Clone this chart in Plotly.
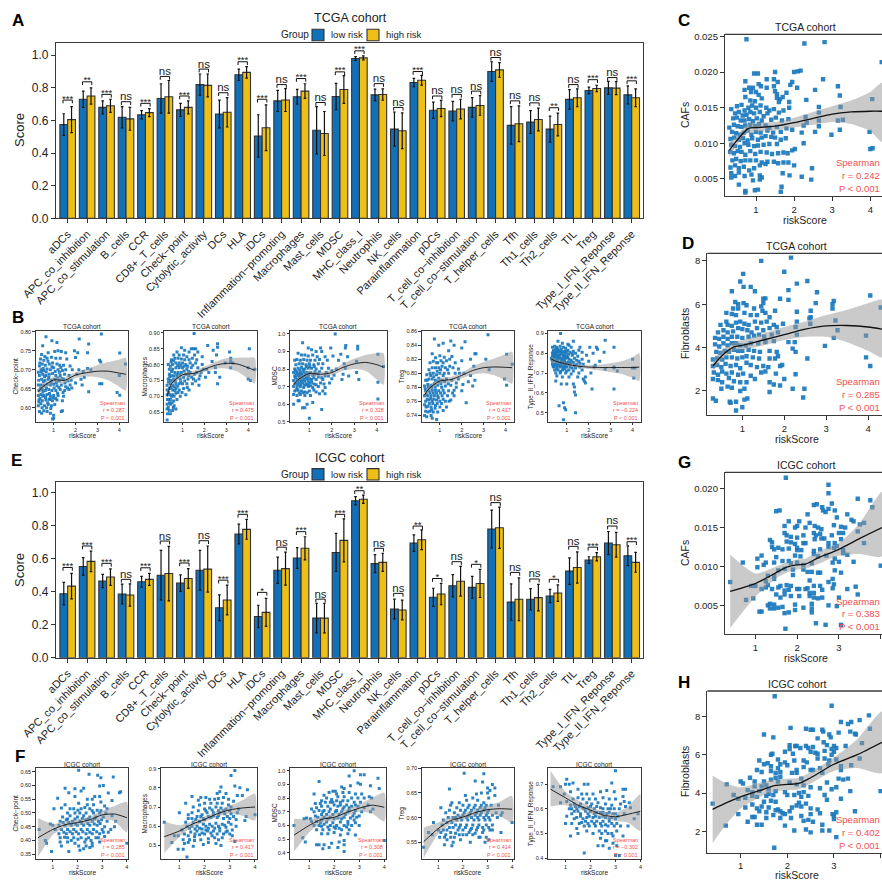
import plotly.graph_objects as go

W, H = 882, 881
FONT = "Liberation Sans"
BLUE, YELLOW, EDGE, DOT, RED = "#1170B8", "#EDBF17", "#333333", "#1A78BD", "#F2504F"

categories = ["aDCs", "APC_co_inhibition", "APC_co_stimulation", "B_cells", "CCR", "CD8+_T_cells", "Check\u2212point",
              "Cytolytic_activity", "DCs", "HLA", "iDCs", "Inflammation\u2212promoting", "Macrophages", "Mast_cells",
              "MDSC", "MHC_class_I", "Neutrophils", "NK_cells", "Parainflammation", "pDCs", "T_cell_co\u2212inhibition",
              "T_cell_co\u2212stimulation", "T_helper_cells", "Tfh", "Th1_cells", "Th2_cells", "TIL", "Treg",
              "Type_I_IFN_Reponse", "Type_II_IFN_Reponse"]

tcga_low = [.575, .73, .68, .62, .635, .735, .665, .82, .64, .88, .505, .72, .745, .54, .747, .98, .757, .547, .833, .663, .657, .68, .90, .57, .59, .547, .729, .784, .80, .757]
tcga_high = [.605, .75, .69, .61, .648, .745, .68, .815, .65, .895, .555, .725, .78, .52, .79, .984, .759, .537, .847, .673, .67, .692, .91, .58, .606, .575, .739, .796, .798, .739]
tcga_low_err = [.066, .05, .04, .065, .025, .09, .04, .065, .085, .035, .13, .065, .045, .145, .08, .012, .035, .105, .025, .05, .06, .06, .06, .115, .07, .08, .06, .02, .04, .055]
tcga_high_err = [.08, .05, .04, .07, .025, .10, .04, .07, .09, .035, .14, .07, .045, .135, .085, .012, .035, .11, .03, .05, .06, .06, .045, .11, .07, .07, .055, .02, .04, .055]
tcga_sig = ["***", "**", "***", "ns", "***", "ns", "***", "ns", "ns", "***", "***", "ns", "***", "ns", "***", "***", "ns", "ns", "***", "ns", "ns", "ns", "ns", "ns", "ns", "**", "ns", "***", "ns", "***"]
tcga_bracket = [.725, .837, .76, .715, .705, .87, .75, .915, .77, .96, .73, .82, .857, .71, .898, 1.027, .826, .68, .90, .75, .76, .78, .986, .72, .708, .678, .82, .85, .863, .843]

icgc_low = [.388, .553, .465, .386, .46, .50, .452, .53, .303, .75, .25, .53, .604, .24, .638, .951, .57, .295, .695, .366, .436, .426, .78, .337, .354, .374, .525, .592, .695, .618]
icgc_high = [.434, .584, .489, .38, .475, .51, .48, .537, .35, .778, .275, .54, .663, .24, .711, .96, .578, .289, .715, .386, .463, .45, .788, .354, .364, .392, .547, .612, .685, .578]
icgc_low_err = [.068, .053, .04, .06, .033, .15, .05, .12, .078, .06, .068, .08, .063, .09, .115, .025, .055, .06, .05, .055, .067, .067, .115, .11, .065, .04, .08, .02, .07, .06]
icgc_high_err = [.077, .062, .05, .067, .036, .165, .06, .14, .09, .06, .085, .10, .07, .09, .13, .025, .055, .06, .06, .065, .09, .085, .125, .13, .08, .05, .095, .025, .075, .06]
icgc_sig = ["***", "***", "***", "ns", "***", "ns", "***", "ns", "***", "***", "*", "ns", "***", "ns", "***", "**", "ns", "ns", "**", "*", "ns", "*", "ns", "ns", "ns", "*", "ns", "***", "ns", "***"]
icgc_bracket = [.547, .677, .572, .475, .545, .707, .574, .709, .47, .869, .396, .67, .764, .355, .869, 1.012, .663, .39, .798, .48, .582, .566, .94, .517, .477, .475, .675, .67, .798, .703]

score_ticks = [0, .2, .4, .6, .8, 1.0]

c_pts_milli = [(.75,24.6),(2.27,24),(2.8,24.2),(4.3,21.4),(.95,19.8),(1.05,19.8),(1.5,20),(2,20),(2.1,20.1),(2.17,20.2),(1.28,19),(1.47,19),(1.95,18.6),(1.9,18.2),(2.76,19),(.72,18.7),(1.07,18.3),(1.57,18.6),(1.13,18),(1.28,17.8),(1.47,18),(1.5,17.3),(2.08,17.8),(.82,17.8),(.92,17.8),(.7,17.5),(.87,17.2),(1,17.2),(1.07,16.8),(1.55,16.9),(1.8,17.1),(2.55,17.5),(3.15,18),(3.2,16.7),(4.05,16.2),(2.32,16.1),(3.22,15.1),(2.65,15.1),(.72,16.5),(.85,16),(.97,15.9),(1.15,16.3),(1.55,16.4),(1.63,16.2),(1.7,16.5),(1.87,15.8),(1.87,15),(1.6,15.8),(.35,14.8),(.5,15.2),(.62,15.4),(.7,14.6),(.8,15),(.9,15.3),(1,15),(1.12,15.3),(1.27,15),(1.35,14.6),(1.47,14.8),(.45,14.2),(.55,14.4),(.65,13.9),(.75,14),(.85,14.4),(.95,14.2),(1.1,14.4),(1.2,13.8),(1.3,14.2),(1.6,14.3),(1.72,14.6),(2.65,14.3),(.4,13.5),(.5,13.6),(.6,13.2),(.7,13.2),(.82,13.4),(.92,13.1),(1.02,13.5),(1.15,13.2),(1.4,13.3),(1.52,13.6),(1.68,13.2),(1.85,13.4),(2.3,13.7),(2.65,13.2),(3.15,13.2),(3.28,13.3),(.3,12.2),(.42,12.6),(.52,12.4),(.62,12.3),(.72,12.5),(.85,12.6),(.98,12.4),(1.08,12.7),(1.25,12.5),(1.35,12.2),(1.55,12.3),(1.8,12.1),(1.95,11.9),(2.25,12.5),(2.33,12.9),(2.65,12.4),(.37,11.6),(.48,11.4),(.58,11.2),(.68,11.5),(.78,11.8),(.88,11.2),(1,11.6),(1.12,11.5),(1.3,11.8),(1.45,11.5),(1.65,11.6),(2.2,11.5),(2.55,11.6),(3.2,11.9),(3.98,11.6),(.33,10.6),(.43,10.8),(.55,10.5),(.66,10.7),(.78,10.4),(.9,10.7),(1.05,10.5),(1.15,10.8),(1.25,11),(1.4,10.9),(1.5,10.8),(1.65,10.5),(1.78,10.7),(2.25,10),(2.98,11.2),(.35,9.8),(.45,9.6),(.58,9.5),(.7,10),(.8,9.8),(.95,9.6),(1.05,9.7),(1.2,9.8),(1.35,9.9),(1.55,9.9),(1.95,9),(2.02,9.2),(.32,8.8),(.42,8.6),(.52,8.9),(.62,8.8),(.72,8.4),(.85,8.9),(.98,8.5),(1.12,8.8),(1.28,8.7),(1.42,8.5),(1.58,8.6),(1.72,8.7),(1.83,8.6),(.38,7.6),(.48,7.8),(.6,7.5),(.72,7.6),(.85,7.6),(1,7.6),(1.15,7.3),(1.3,7.4),(1.47,7.4),(1.58,7.2),(1.72,7.3),(1.85,7.3),(.33,6.6),(.45,6.9),(.55,6.5),(.68,6.7),(.82,6.2),(.95,6.5),(1.1,6.9),(1.25,7.1),(2,6.9),(2.47,6.5),(.35,5.8),(.45,5.4),(.55,5.9),(.7,5.4),(.88,5.6),(1.1,5.5),(1.15,5.2),(1.7,5.8),(1.88,5.5),(2.2,5.3),(2.45,4.9),(.35,5.2),(.55,4.2),(.72,3.3),(.72,3.1),(.92,4.8),(.97,3.4),(1.05,3.5),(1.1,4.9),(1.67,3.9),(1.65,3.2),(4,9.2),(4.06,9.3)]
d_pts = [(1.45,8),(2.16,8.15),(2,7.5),(1.02,7.4),(.95,7.05),(1.03,6.8),(1.2,6.8),(1.3,6.6),(.75,6.6),(2.3,6.95),(2.55,7.07),(2.1,6.65),(2.78,6.55),(4.05,6.4),(1.5,6.25),(1.55,6.27),(1.9,6.25),(2.1,6.2),(3.18,6.15),(3.15,6),(3.15,5.8),(2.75,6.05),(4.3,5.85),(.83,6.1),(.9,6),(1.03,6.05),(1.1,5.95),(.62,5.6),(.78,5.8),(.9,5.8),(1.28,5.8),(1.45,5.9),(1.5,6.05),(1.48,5.7),(1.55,5.6),(1.78,5.7),(2.3,5.65),(2.63,5.7),(.75,5.55),(.85,5.5),(1.05,5.6),(1.2,5.5),(1.35,5.5),(1.65,5.4),(2.63,5.4),(2.6,5.35),(3.22,5.25),(.48,5.05),(.62,5.2),(.65,5.05),(.75,5),(.85,5.15),(.95,5.2),(1.05,5.1),(1.15,5.05),(1.3,5.2),(1.45,5.15),(1.58,5.2),(1.75,5.05),(1.97,5.1),(2.3,5.2),(2.62,5.1),(.42,4.7),(.55,4.8),(.65,4.7),(.78,4.75),(.9,4.9),(1,4.85),(1.12,4.8),(1.22,4.7),(1.35,4.9),(1.5,4.8),(1.65,4.9),(1.82,4.95),(2.27,4.95),(3.27,4.8),(.35,4.45),(.45,4.4),(.55,4.5),(.65,4.4),(.75,4.5),(.88,4.5),(1,4.45),(1.15,4.5),(1.28,4.55),(1.4,4.6),(1.52,4.5),(1.7,4.6),(1.85,4.7),(2.3,4.6),(3.95,4.55),(3.18,4.45),(.35,4.15),(.45,4.05),(.55,4.2),(.65,4.1),(.75,4.2),(.85,4.2),(.95,4.1),(1.08,4.1),(1.2,4.2),(1.38,4.2),(1.55,4.25),(1.75,4.3),(2.1,4.25),(2.25,4.25),(.38,3.8),(.48,3.75),(.58,3.85),(.68,3.8),(.8,3.9),(.9,3.85),(1,3.85),(1.15,3.9),(1.28,3.85),(1.42,3.8),(1.65,3.85),(1.82,3.8),(2.2,3.95),(2.27,3.8),(2.97,4.08),(.3,3.45),(.4,3.5),(.52,3.45),(.62,3.55),(.75,3.55),(.88,3.5),(1,3.55),(1.1,3.6),(1.25,3.55),(1.4,3.5),(1.65,3.5),(1.78,3.5),(1.85,3.6),(2.55,3.5),(3.95,3.55),(.3,3.15),(.4,3.2),(.5,3.1),(.6,3.25),(.72,3.15),(.85,3.2),(.95,3.05),(1.1,3.3),(1.2,3.2),(1.35,3.1),(1.5,3.15),(1.62,3.1),(1.9,3.15),(1.95,3.2),(4.05,3.15),(.32,2.85),(.42,2.75),(.52,2.9),(.62,2.8),(.75,2.85),(.9,2.75),(1.02,2.8),(1.2,2.7),(1.45,2.85),(1.55,2.9),(1.8,2.8),(2.27,2.77),(.3,2.55),(.42,2.5),(.52,2.4),(.68,2.6),(.8,2.45),(.95,2.4),(1.1,2.4),(1.3,2.55),(1.65,2.4),(2,2.55),(.5,2.1),(.65,2.2),(.75,2.15),(.95,2),(1.05,2.1),(1.75,2.3),(1.9,2.25),(2.2,2.1),(2.48,2.1),(1.65,1.95),(.3,1.65),(.37,1.55),(.7,1.5),(.72,1.45),(.85,1.5),(1.05,1.6),(1.12,1.65),(1,1.25),(.85,1.1),(2.45,1.7)]
g_pts_milli = [(1.73,21.4),(2.75,20.5),(2.75,19.4),(3.45,18.7),(3.75,18.5),(3.8,17.6),(2.4,17.9),(2.47,18),(2.6,17.6),(2.83,18.1),(2.68,17),(2.75,17.4),(2.62,17.2),(2.9,17.2),(2.95,16.3),(3.2,16.7),(3.3,16),(3.35,15.8),(2.25,16.7),(1.5,17.1),(1.58,17.2),(1.8,15.8),(2.05,15.8),(2.2,15),(2.3,15.6),(2.42,15.2),(2.5,15),(2.58,14.8),(2.88,15.3),(3.05,15.1),(3.15,15),(3.5,15.4),(3.6,15.6),(1.7,15.2),(1.95,15),(2,15.2),(3.45,14.5),(1.7,14.3),(1.75,14),(1.85,13.8),(2,13.7),(2.15,14),(2.4,14.3),(2.45,14),(2.55,14.2),(2.65,13.6),(2.83,14),(3,14.3),(3.1,14.3),(1.35,13.4),(1.4,13.1),(1.75,13.2),(1.85,13.1),(1.95,12.9),(2,12.4),(2.15,13),(2.2,13),(2.42,13.5),(2.58,13.6),(2.75,13),(2.9,13),(3.05,13.5),(3.6,13),(1.4,12.5),(1.45,12.2),(1.55,12.4),(1.65,12.2),(1.8,12.3),(2,12.1),(2.1,12.1),(2.4,12),(2.55,12.2),(2.75,12.5),(2.88,12.4),(2.95,12.6),(3.1,12.1),(1.15,11.4),(1.5,11.2),(1.65,10.7),(1.8,10.7),(1.95,11.4),(2.08,11.3),(2.4,11.6),(2.5,11.3),(2.7,11.4),(2.9,11),(3.1,11.7),(3.2,11.5),(.7,10.5),(1.05,11),(1.25,10.5),(1.45,10.5),(1.05,9.9),(1.2,10.2),(1.85,10.4),(2,10.5),(2.15,10.2),(2.35,10.4),(2.85,10.5),(3,10.6),(3.35,10.6),(4,10.1),(1.55,9.5),(1.7,9.7),(1.9,9.6),(2.15,9.6),(2.25,9.3),(2.35,9.3),(2.55,9.2),(2.9,9.5),(3.05,9.2),(1.3,8.8),(1.45,8.8),(1.9,8.9),(2.3,8.2),(2.5,9.2),(2.85,8.4),(.4,8),(.9,7.5),(1,7.5),(1.25,8.1),(1.3,7.6),(1.45,8.4),(1.6,7.5),(1.75,7.6),(1.85,7.5),(2.05,7.1),(2.25,7.2),(2.4,7.5),(2.55,7.5),(2.75,8),(2.88,7.7),(2.85,7.2),(3.4,7.4),(1.15,7.1),(1.25,7.3),(1.4,7.1),(1.55,7.3),(1.7,6.9),(1.8,7),(2,7.1),(2.2,7.1),(2.3,6.6),(2.4,6.6),(2.6,7),(3.2,7.1),(3.45,6.4),(1.5,6.4),(1.6,6),(1.7,6.4),(1.85,6.2),(2.05,6.2),(2.3,6.2),(2.4,6),(2.5,5.9),(2.6,6),(3,6),(.78,5.7),(.95,5.9),(1.3,5),(1.35,5.2),(1.45,5.1),(1.55,4.7),(1.65,4.8),(1.95,5.1),(2.15,4.7),(2.35,5.2),(2.35,4.6),(2.75,5),(2.95,4.9),(1.1,4.2),(1.15,4.2),(1.35,4.6),(1.45,4.6),(1.7,4),(1.8,4.1),(1.95,4.4),(2.35,4.1),(1.72,2),(2.45,2.7),(2.68,2.5),(3.05,2.5)]
h_pts = [(1.73,9.05),(2.95,8.55),(3.55,7.8),(3.75,8.05),(3.15,7.7),(3.3,7.6),(3.37,7.7),(2.07,7.4),(1.5,7.05),(1.7,6.9),(2.4,7.35),(2.5,7.3),(2.55,7.3),(2.77,7.2),(2.75,7.3),(2.65,6.85),(2.9,7.05),(2.93,6.9),(3.1,7.15),(3.35,7.2),(3.45,7.1),(3.47,7.05),(3.77,7.35),(2.05,6.5),(2.17,6.45),(2.2,6.45),(2.4,6.45),(2.45,6.35),(2.55,6.4),(2.78,6.65),(2.85,6.5),(3,6.45),(3.05,6.35),(2.95,6.3),(3.25,6.45),(3.6,6.6),(1.68,6.05),(1.65,6),(1.95,6.15),(2.05,6.3),(2.12,6.05),(2.28,6.35),(2.5,6.15),(2.6,6.1),(2.65,6.05),(2.8,6.2),(2.95,6),(3,6.15),(1.4,5.7),(1.5,5.5),(1.58,5.55),(1.8,5.75),(1.95,5.6),(2.15,5.7),(2.35,5.7),(2.42,5.6),(2.65,5.8),(2.8,5.8),(2.9,5.7),(3.05,5.75),(3.55,5.8),(1.65,5.4),(1.8,5.3),(1.85,5.5),(2,5.45),(2.2,5.2),(2.35,5.35),(2.55,5.2),(2.7,5.3),(2.88,5.5),(3.15,5.4),(3.37,5.45),(1.35,5.2),(1.45,5.1),(1.65,5.15),(1.75,5.05),(1.85,5.1),(2.1,5.05),(2.2,5.05),(2.5,5.2),(2.75,5.05),(3.15,5.2),(1.2,4.8),(1.75,4.8),(1.85,4.85),(1,4.6),(1.05,4.5),(1.3,4.6),(1.5,4.6),(1.65,4.7),(1.8,4.6),(2.05,4.55),(2.3,4.75),(2.85,4.55),(3.1,4.75),(3.2,4.7),(3.3,4.75),(.7,4.45),(1.3,4.35),(1.45,4.35),(1.55,4.4),(1.6,4.2),(2.2,4.45),(2.35,4.4),(2.5,4.3),(2.7,4.25),(2.95,4.2),(3.05,4.3),(1.15,4.15),(1.25,4.05),(1.4,4.1),(1.6,3.95),(1.75,4.1),(1.95,4.05),(2.25,4),(2.35,4.05),(3.35,4.1),(4,4.1),(.85,3.9),(1.1,3.75),(1.25,3.85),(1.35,3.8),(1.55,3.85),(1.7,3.9),(2,3.9),(2.15,3.9),(2.3,3.8),(2.45,3.85),(2.8,3.9),(3.15,3.7),(.4,3.45),(.95,3.7),(1.5,3.55),(1.65,3.6),(1.75,3.55),(2.25,3.5),(2.4,3.45),(2.85,3.65),(1.1,3.25),(1.25,3.4),(1.35,3.2),(1.45,3.3),(1.6,3.25),(1.8,3.15),(2.1,3.25),(2.2,3.35),(2.3,3.3),(2.5,3.2),(2.65,3.15),(1.4,3.05),(1.55,3),(1.75,3.1),(1.85,3.05),(1.9,2.95),(1.95,2.9),(2.05,3.05),(2.3,2.8),(2.5,2.9),(2.7,2.95),(2.97,2.9),(3.05,3),(3.45,3.05),(.95,2.9),(1.25,2.75),(1.3,2.75),(1.55,2.7),(1.7,2.85),(1.85,2.7),(2.08,2.7),(2.35,2.55),(2.45,2.6),(2.55,2.5),(3,2.8),(3,2.65),(1.15,2.5),(1.35,2.35),(1.45,2.35),(1.95,2.3),(2.75,2.35),(.68,2.3),(2.15,2.05),(2.4,2.1),(2.5,1.95),(2.75,2.05),(2.9,2.05),(3.05,1.7),(1.72,1.15)]

b1_pts = [(.65,.787),(.92,.776),(.5,.763),(1.15,.772),(2.17,.781),(2.6,.768),(3.18,.794),(4.02,.744),(4.28,.715),(1.55,.745),(1.95,.75),(.45,.74),(.6,.735),(.75,.745),(1.05,.748),(1.2,.75),(1.35,.748),(2.1,.745),(2.55,.745),(.4,.728),(.55,.725),(.7,.73),(.9,.733),(1.1,.73),(1.3,.73),(1.6,.728),(2.0,.732),(3.1,.725),(3.15,.72),(.35,.71),(.48,.715),(.62,.712),(.8,.715),(.95,.718),(1.15,.715),(1.28,.712),(1.45,.712),(1.75,.71),(.3,.693),(.42,.7),(.55,.698),(.7,.702),(.85,.7),(1,.705),(1.2,.7),(1.4,.698),(1.55,.7),(1.85,.7),(2.35,.695),(2.55,.703),(2.7,.7),(.35,.685),(.5,.688),(.65,.685),(.8,.688),(.95,.69),(1.1,.685),(1.3,.685),(1.5,.688),(1.7,.685),(2.05,.688),(2.4,.68),(4,.685),(.32,.672),(.45,.675),(.6,.672),(.75,.675),(.9,.672),(1.05,.675),(1.25,.67),(1.45,.675),(1.65,.67),(1.8,.672),(.3,.66),(.42,.66),(.55,.658),(.7,.662),(.85,.66),(1,.662),(1.15,.658),(1.35,.66),(1.55,.655),(1.75,.66),(2,.665),(2.3,.66),(3.1,.663),(3.2,.663),(.33,.645),(.48,.648),(.62,.645),(.78,.648),(.92,.645),(1.1,.645),(1.3,.648),(1.5,.645),(1.7,.648),(2.6,.642),(3.9,.64),(4.02,.633),(.3,.632),(.42,.635),(.56,.632),(.7,.635),(.85,.63),(1,.632),(1.2,.632),(1.45,.63),(.33,.62),(.48,.618),(.65,.62),(.8,.622),(.95,.618),(1.15,.62),(1.4,.618),(.3,.605),(.42,.61),(.58,.605),(.75,.608),(.9,.605),(1.05,.608),(1.4,.592),(1.35,.59),(.35,.59),(.45,.585),(.55,.592),(.7,.59),(.85,.585),(1,.58),(1,.572),(.95,.57)]
b1_more = [(.37,.718),(.52,.703),(.66,.694),(.78,.68),(.88,.666),(1.02,.652),(1.18,.638),(.41,.652),(.53,.668),(.67,.652),(.81,.637),(.97,.626),(.38,.624),(.51,.641),(.63,.627),(.73,.613),(.87,.598),(1.12,.666),(1.27,.693),(1.38,.677),(1.52,.665),(1.63,.652),(1.43,.64),(1.24,.653),(.92,.708),(1.07,.695),(.74,.722),(.58,.682),(.44,.694),(.33,.615),(.47,.6),(.68,.6),(1.19,.678),(1.33,.706),(1.83,.652),(2.15,.7),(2.25,.675),(.84,.622),(1.09,.624),(.5,.63)]
b2_pts = [(1.53,.898),(.95,.853),(1.4,.85),(1.5,.85),(1.6,.85),(.75,.84),(1.1,.845),(2.15,.86),(2.6,.866),(2.6,.855),(3.15,.84),(4.05,.85),(2.4,.845),(2.55,.83),(1.3,.84),(1.7,.84),(.6,.83),(.85,.83),(1.05,.83),(1.2,.825),(1.55,.83),(1.9,.825),(.5,.815),(.65,.82),(.8,.82),(.95,.818),(1.1,.815),(1.3,.815),(1.45,.82),(1.65,.815),(3.2,.82),(3.2,.81),(.35,.8),(.45,.795),(.55,.8),(.7,.805),(.85,.805),(1,.805),(1.15,.8),(1.35,.805),(1.6,.805),(1.9,.8),(2.35,.81),(2.95,.805),(3.3,.805),(.4,.785),(.55,.785),(.7,.79),(.85,.79),(1,.79),(1.2,.785),(1.4,.79),(1.7,.79),(2.1,.785),(2.5,.79),(3.2,.79),(4.3,.785),(.4,.77),(.5,.765),(.65,.775),(.8,.775),(.95,.775),(1.15,.77),(1.35,.775),(1.55,.77),(1.85,.775),(2.2,.775),(2.5,.775),(4,.79),(.35,.755),(.45,.75),(.6,.755),(.75,.76),(.9,.755),(1.05,.76),(1.25,.755),(1.5,.755),(1.75,.755),(2.05,.76),(2.7,.76),(4,.755),(4.1,.75),(.3,.735),(.45,.74),(.55,.735),(.7,.74),(.85,.74),(1,.74),(1.2,.74),(1.45,.74),(1.75,.735),(2.6,.74),(.3,.72),(.4,.725),(.55,.72),(.7,.725),(.85,.72),(1.05,.725),(1.3,.72),(.3,.705),(.42,.705),(.55,.705),(.7,.71),(.9,.7),(1.15,.705),(.32,.69),(.45,.69),(.6,.685),(.75,.69),(.3,.675),(.45,.675),(.62,.67),(.3,.66),(.4,.655),(.55,.655),(.32,.645),(.45,.645),(.3,.625),(.7,.66)]
b2_more = [(.37,.712),(.48,.728),(.63,.73),(.78,.732),(.92,.745),(1.1,.748),(1.28,.765),(1.42,.76),(.5,.778),(.6,.765),(.74,.768),(.88,.768),(1.07,.78),(1.23,.795),(1.47,.798),(.42,.762),(.57,.748),(.67,.748),(.35,.69),(.5,.7),(.62,.7),(.8,.712),(.98,.712),(1.22,.728),(1.6,.748),(1.65,.775),(1.8,.765),(1.95,.785),(.36,.745),(.48,.808),(.6,.812),(.78,.797),(.92,.797),(1.08,.795),(1.28,.778),(.52,.68),(.66,.718),(.4,.68),(.35,.665),(.58,.665)]
b3_pts = [(2.15,1),(.7,.95),(.95,.92),(1.1,.91),(1.5,.92),(2.62,.935),(2.6,.92),(3.15,.93),(3.15,.915),(4.05,.885),(1.3,.9),(1.55,.9),(1.95,.92),(2.4,.885),(.5,.89),(.65,.88),(.8,.88),(.95,.875),(1.15,.88),(1.35,.87),(1.7,.87),(2.05,.875),(2.7,.87),(.35,.85),(.45,.855),(.6,.85),(.75,.855),(.9,.85),(1.05,.85),(1.25,.85),(1.45,.855),(1.8,.85),(2.3,.85),(.4,.825),(.55,.83),(.7,.83),(.85,.825),(1,.83),(1.2,.825),(1.4,.83),(1.6,.83),(2.55,.83),(3.1,.845),(.35,.8),(.5,.805),(.65,.81),(.8,.8),(.95,.805),(1.1,.805),(1.3,.8),(1.55,.805),(1.85,.805),(2.2,.8),(2.6,.805),(4.3,.815),(.3,.78),(.45,.785),(.6,.78),(.75,.785),(.9,.78),(1.05,.78),(1.25,.785),(1.45,.785),(1.75,.78),(2,.79),(3.1,.78),(.35,.76),(.5,.76),(.65,.765),(.8,.76),(.95,.76),(1.15,.765),(1.4,.755),(1.7,.76),(2.5,.77),(2.75,.76),(.3,.735),(.45,.74),(.6,.74),(.75,.74),(.9,.745),(1.1,.74),(1.3,.74),(1.6,.74),(2,.745),(2.45,.74),(3.2,.74),(.4,.72),(.55,.72),(.7,.72),(.85,.715),(1,.72),(1.2,.715),(1.5,.72),(1.9,.72),(4.05,.725),(.3,.7),(.45,.695),(.6,.7),(.75,.695),(.95,.7),(1.15,.695),(1.4,.7),(1.7,.695),(.35,.675),(.5,.68),(.65,.675),(.8,.67),(1,.675),(1.3,.67),(1.6,.675),(.3,.655),(.45,.65),(.6,.655),(.8,.65),(1.05,.65),(1.45,.66),(1.7,.66),(4.05,.63),(.3,.6),(.5,.62),(.55,.62),(.7,.58),(.8,.58),(.9,.6),(1.0,.52),(1.55,.57),(1.15,.61)]
b3_more = [(.38,.79),(.52,.772),(.68,.772),(.83,.772),(.98,.77),(1.22,.77),(.42,.77),(.57,.755),(.72,.75),(.87,.75),(1.02,.745),(1.2,.75),(.38,.752),(.5,.73),(.65,.73),(.8,.73),(.95,.73),(1.1,.725),(.36,.715),(.48,.71),(.62,.71),(.78,.708),(.92,.71),(1.05,.705),(1.3,.71),(.42,.68),(.55,.665),(.72,.665),(.9,.665),(1.2,.68),(.58,.795),(.72,.798),(.87,.815),(1.02,.815),(1.22,.815),(1.38,.775),(1.55,.75),(1.65,.715),(1.85,.76),(2.1,.765)]
b4_pts = [(.75,.849),(1.15,.843),(.95,.84),(1.5,.846),(2.15,.845),(3.2,.855),(1.4,.832),(1.55,.824),(1.65,.84),(2,.836),(2.6,.828),(2.65,.828),(4.05,.827),(4.3,.813),(1,.825),(1.2,.823),(.65,.828),(.8,.822),(.55,.815),(.7,.817),(.85,.815),(1.05,.818),(1.3,.818),(1.45,.82),(1.7,.815),(2,.818),(2.4,.82),(3.1,.82),(.5,.805),(.65,.808),(.8,.808),(.95,.808),(1.1,.81),(1.25,.808),(1.45,.81),(1.6,.808),(1.85,.806),(2.55,.81),(3.25,.805),(.4,.798),(.55,.8),(.7,.8),(.85,.798),(1,.8),(1.2,.8),(1.4,.8),(1.7,.8),(2.1,.8),(2.4,.797),(.35,.79),(.5,.792),(.65,.792),(.8,.79),(.95,.793),(1.1,.79),(1.3,.792),(1.55,.79),(1.85,.792),(2.3,.788),(2.6,.79),(.3,.782),(.45,.784),(.6,.783),(.75,.785),(.9,.783),(1.05,.785),(1.25,.782),(1.5,.783),(1.75,.786),(2.05,.784),(2.5,.782),(3.95,.792),(.35,.775),(.5,.775),(.65,.776),(.8,.776),(.95,.775),(1.15,.776),(1.4,.775),(1.65,.776),(2,.775),(4.05,.783),(.3,.768),(.45,.768),(.6,.768),(.75,.768),(.9,.768),(1.1,.768),(1.35,.768),(1.65,.768),(.35,.76),(.5,.762),(.65,.76),(.85,.762),(1,.76),(1.25,.76),(1.5,.762),(2.2,.758),(.3,.755),(.45,.753),(.6,.752),(.8,.754),(1,.752),(1.3,.752),(.35,.746),(.55,.746),(.7,.745),(.9,.745),(1.15,.747),(.3,.74),(.4,.738),(.6,.74),(.65,.736),(.85,.734)]
b4_more = [(.42,.79),(.58,.797),(.72,.795),(.88,.803),(1.03,.805),(1.15,.797),(.33,.778),(.47,.78),(.62,.78),(.78,.78),(.93,.788),(1.08,.78),(1.22,.788),(1.38,.785),(.38,.77),(.55,.772),(.7,.772),(.85,.772),(1.03,.772),(1.2,.772),(.42,.763),(.58,.764),(.72,.763),(.93,.765),(1.15,.763),(.37,.752),(.52,.757),(.68,.757),(.88,.757),(1.08,.757),(.45,.745),(.62,.748),(.78,.75),(1.42,.76),(1.58,.772),(1.75,.78),(1.9,.8),(1.35,.805),(1.15,.815),(.9,.815)]
b5_pts = [(.72,.9),(.85,.83),(1.1,.84),(1.3,.86),(.6,.86),(.8,.85),(1.05,.845),(2.75,.865),(3.15,.83),(2.35,.83),(2.05,.83),(2.7,.805),(3.15,.73),(2.4,.82),(.35,.83),(.45,.835),(.55,.83),(.7,.835),(.95,.825),(1.2,.83),(1.6,.83),(.4,.815),(.5,.82),(.6,.82),(.75,.82),(.9,.81),(1.05,.815),(1.3,.81),(1.55,.815),(.35,.8),(.45,.8),(.55,.805),(.65,.805),(.8,.8),(.95,.8),(1.15,.805),(1.4,.8),(1.7,.805),(2.2,.8),(.35,.785),(.45,.79),(.55,.785),(.7,.79),(.85,.785),(1,.785),(1.25,.79),(1.5,.785),(1.9,.79),(.3,.775),(.4,.775),(.55,.77),(.65,.775),(.8,.77),(.95,.775),(1.1,.77),(1.35,.775),(1.7,.77),(2.5,.76),(.35,.76),(.5,.76),(.6,.76),(.75,.76),(.9,.76),(1.05,.755),(1.3,.755),(1.55,.76),(2,.76),(4,.77),(.35,.745),(.45,.745),(.6,.745),(.75,.745),(.9,.74),(1.1,.745),(1.35,.74),(1.75,.745),(2.3,.74),(.4,.73),(.55,.73),(.7,.73),(.85,.725),(1,.73),(1.25,.725),(1.6,.73),(2.25,.73),(2.75,.72),(3.15,.725),(4.1,.725),(4.0,.725),(.45,.715),(.6,.715),(.8,.715),(1,.71),(1.3,.71),(1.7,.715),(3.3,.71),(.5,.7),(.7,.7),(.95,.7),(1.2,.695),(1.55,.7),(2.1,.7),(4.05,.675),(.55,.685),(.8,.68),(1.1,.68),(1.5,.68),(1.85,.68),(.5,.66),(.75,.645),(1,.645),(1.3,.645),(1.75,.67),(1.8,.66),(1.85,.65),(2.15,.62),(1.35,.63),(1.35,.605),(1.4,.59),(3.15,.62),(.65,.535),(.85,.55),(.9,.525),(.95,.515),(.85,.465),(1.4,.5)]
b5_more = [(.38,.808),(.5,.81),(.62,.812),(.72,.81),(.85,.808),(1,.81),(.4,.795),(.52,.795),(.62,.79),(.75,.797),(.9,.79),(1.08,.795),(1.25,.798),(.33,.768),(.47,.782),(.6,.78),(.72,.775),(.88,.775),(1.05,.778),(1.2,.765),(.42,.768),(.53,.75),(.68,.752),(.82,.752),(.97,.75),(1.18,.752),(1.45,.765),(.38,.735),(.5,.738),(.65,.738),(.8,.735),(.95,.735),(1.15,.73),(1.45,.745),(.55,.722),(.72,.708),(.9,.72),(1.1,.715),(1.4,.725),(1.6,.75)]
f1_pts = [(2.05,.655),(2.47,.64),(2.82,.637),(2.95,.628),(3.45,.63),(1.5,.59),(1.9,.588),(2.25,.59),(1.65,.573),(2.15,.58),(2.9,.598),(3.05,.6),(3.25,.572),(3.7,.573),(3.75,.577),(1.2,.553),(1.9,.56),(2.4,.55),(2.7,.56),(2.9,.56),(2.6,.55),(3.4,.545),(1.5,.53),(2.05,.535),(2.4,.53),(2.65,.53),(2.95,.54),(3.1,.525),(1.05,.515),(1.35,.518),(1.7,.515),(1.85,.515),(2.15,.515),(2.5,.515),(2.8,.51),(3.2,.515),(1.6,.5),(1.9,.5),(2.1,.5),(2.35,.5),(2.65,.5),(2.9,.5),(3.15,.5),(3.4,.49),(1.4,.485),(1.7,.49),(2,.485),(2.25,.49),(2.5,.485),(2.75,.485),(3.05,.485),(1.3,.47),(1.55,.475),(1.8,.47),(2.1,.47),(2.35,.475),(2.6,.47),(2.85,.47),(3.2,.47),(3.55,.47),(.9,.46),(1,.455),(1.25,.455),(1.5,.455),(1.75,.455),(2,.455),(2.25,.455),(2.5,.455),(2.8,.455),(3.1,.45),(3.5,.45),(.45,.44),(1.1,.44),(1.35,.44),(1.6,.44),(1.85,.44),(2.15,.44),(2.4,.44),(2.65,.44),(3,.44),(3.35,.44),(1.25,.425),(1.55,.425),(1.8,.425),(2.05,.425),(2.35,.425),(2.6,.425),(2.9,.425),(3.25,.43),(1.3,.41),(1.6,.41),(1.85,.41),(2.15,.41),(2.45,.41),(2.75,.41),(3.1,.415),(.75,.39),(.7,.4),(1.3,.395),(1.6,.395),(1.9,.39),(2.3,.395),(2.6,.39),(2.9,.395),(1.35,.38),(2.05,.38),(2.35,.38),(2.6,.38),(.95,.36),(1.65,.36),(2.1,.365),(2.25,.37),(2.5,.375),(4,.39)]
f1_more = [(1.42,.465),(1.65,.465),(1.92,.46),(2.18,.462),(2.42,.462),(2.68,.46),(2.92,.462),(1.45,.43),(1.7,.432),(1.95,.432),(2.22,.432),(2.5,.43),(2.78,.432),(3.05,.43),(1.48,.412),(1.75,.4),(2.02,.405),(2.35,.405),(2.55,.4),(2.85,.41),(1.6,.478),(1.9,.478),(2.2,.48),(2.45,.478),(2.7,.478),(2.98,.475),(2.02,.51),(2.3,.52),(2.6,.508),(2.95,.508)]
f2_pts = [(3.2,.89),(3.05,.865),(3.2,.81),(3.4,.8),(2.65,.805),(1.5,.755),(1.85,.75),(2.05,.75),(2.6,.78),(2.5,.77),(2.85,.77),(3.7,.79),(3.5,.76),(1.25,.72),(1.75,.735),(2.2,.74),(2.4,.74),(2.55,.745),(2.75,.75),(2.95,.74),(3.3,.76),(1,.67),(1.35,.66),(1.55,.7),(1.8,.71),(2,.72),(2.25,.72),(2.5,.72),(2.7,.72),(2.95,.71),(3.15,.73),(1.35,.64),(1.5,.67),(1.75,.68),(2,.69),(2.2,.695),(2.45,.7),(2.65,.695),(2.85,.69),(3.05,.7),(3.35,.69),(3.65,.65),(1.25,.62),(1.5,.64),(1.7,.65),(1.9,.66),(2.1,.67),(2.35,.67),(2.6,.67),(2.8,.665),(3.05,.665),(3.3,.67),(4,.66),(.4,.62),(1.3,.6),(1.55,.62),(1.8,.625),(2,.635),(2.25,.645),(2.5,.645),(2.75,.64),(3,.64),(3.25,.635),(3.6,.63),(.95,.55),(1.1,.58),(1.4,.59),(1.7,.6),(1.95,.61),(2.2,.61),(2.45,.615),(2.7,.61),(2.95,.62),(3.25,.6),(1.2,.56),(1.45,.57),(1.7,.575),(1.9,.585),(2.15,.59),(2.4,.59),(2.6,.59),(2.85,.595),(3.1,.58),(.8,.55),(1.35,.55),(1.6,.545),(1.8,.555),(2,.56),(2.25,.565),(2.5,.56),(2.75,.56),(3,.56),(.7,.515),(1.15,.53),(1.4,.53),(1.6,.525),(1.85,.53),(2.15,.535),(2.4,.54),(2.7,.54),(3.1,.55),(1.2,.51),(1.35,.515),(1.55,.495),(1.95,.505),(2.15,.515),(2.45,.51),(2.65,.5),(3.2,.52),(.95,.48),(1.15,.48),(1.3,.44),(2.85,.57)]
f2_more = [(1.5,.6),(1.62,.585),(1.8,.59),(2.05,.6),(2.3,.6),(2.55,.6),(2.8,.605),(3.05,.61),(1.62,.56),(1.9,.565),(2.12,.575),(2.35,.575),(2.6,.575),(2.9,.575),(1.65,.635),(1.95,.64),(2.15,.65),(2.35,.655),(2.55,.655),(2.9,.65),(3.15,.65),(2.05,.68),(2.3,.685),(2.55,.68),(2.75,.68),(3,.68),(1.85,.65),(2.05,.58),(2.3,.55),(2.55,.53)]
f3_pts = [(2.8,1),(3.05,.97),(3.2,.97),(2.6,.96),(3.75,.945),(2.95,.91),(3.05,.9),(2.65,.89),(2.3,.88),(1.4,.92),(1.2,.83),(1.95,.85),(2.05,.85),(2.4,.87),(3.45,.89),(3.8,.87),(1.6,.82),(1.8,.84),(2.1,.83),(2.35,.84),(2.6,.84),(2.85,.83),(3.1,.83),(3.4,.81),(3.5,.8),(1.5,.78),(1.7,.8),(1.9,.79),(2.15,.81),(2.4,.81),(2.7,.8),(2.95,.8),(3.2,.8),(1.25,.76),(1.45,.76),(1.65,.77),(1.85,.77),(2.1,.78),(2.35,.78),(2.55,.78),(2.8,.77),(3.05,.77),(3.35,.75),(1.1,.72),(1.3,.73),(1.5,.74),(1.75,.74),(2,.75),(2.25,.75),(2.5,.75),(2.7,.74),(2.95,.74),(3.2,.73),(3.55,.72),(1.2,.7),(1.4,.71),(1.6,.71),(1.85,.72),(2.1,.71),(2.35,.72),(2.6,.71),(2.85,.71),(3.1,.7),(3.45,.7),(.8,.65),(.9,.655),(1.05,.65),(1.25,.67),(1.5,.68),(1.7,.68),(1.95,.68),(2.2,.68),(2.45,.68),(2.75,.67),(3,.67),(.4,.6),(1.1,.63),(1.3,.63),(1.5,.64),(1.75,.65),(2,.65),(2.3,.65),(2.55,.63),(2.8,.64),(1.2,.6),(1.4,.6),(1.6,.61),(1.85,.6),(2.1,.6),(2.4,.6),(2.7,.6),(3,.6),(1.3,.57),(1.55,.57),(1.8,.57),(2.05,.58),(2.3,.57),(2.6,.57),(.75,.51),(.85,.48),(1.5,.54),(1.75,.54),(2,.55),(2.25,.53),(2.55,.54),(2.85,.53),(1.3,.46),(1.4,.46),(1.6,.46),(1.55,.43),(1.9,.47),(2.2,.48),(2.4,.49),(2.4,.46),(1.8,.44),(2.15,.44),(2.4,.41),(4,.49)]
f3_more = [(1.35,.66),(1.6,.66),(1.85,.66),(2.15,.655),(2.4,.66),(2.65,.655),(2.9,.66),(1.45,.62),(1.7,.625),(1.95,.62),(2.25,.625),(2.55,.61),(2.85,.62),(1.5,.595),(1.75,.59),(2,.59),(2.2,.58),(2.5,.59),(1.55,.7),(1.8,.7),(2.05,.7),(2.3,.7),(2.55,.7),(2.8,.69),(2.15,.74),(2.4,.735),(2.6,.73),(2.85,.75),(1.95,.77),(2.25,.77)]
f4_pts = [(2.05,.69),(2.85,.689),(2.5,.674),(2.8,.672),(1.45,.658),(3,.66),(3.2,.667),(2.1,.645),(2.55,.648),(2.75,.65),(3,.65),(3.1,.655),(3.3,.66),(1.1,.62),(1.55,.63),(1.85,.63),(2.15,.635),(2.4,.64),(2.6,.635),(2.85,.63),(3.05,.64),(3.3,.645),(1.3,.61),(1.5,.625),(1.75,.62),(2,.625),(2.25,.625),(2.5,.625),(2.75,.625),(2.95,.625),(3.15,.625),(3.45,.625),(1.45,.615),(1.65,.61),(1.9,.615),(2.1,.615),(2.35,.615),(2.6,.615),(2.85,.615),(3.05,.615),(3.35,.61),(3.6,.61),(1.2,.595),(1.4,.6),(1.6,.6),(1.8,.605),(2,.605),(2.25,.605),(2.5,.605),(2.7,.605),(2.95,.605),(3.2,.605),(3.55,.605),(.8,.59),(1.15,.585),(1.35,.59),(1.55,.59),(1.75,.595),(1.95,.595),(2.2,.595),(2.45,.595),(2.65,.595),(2.9,.595),(3.1,.595),(3.4,.6),(.6,.57),(1,.575),(1.2,.575),(1.45,.58),(1.7,.585),(1.9,.585),(2.15,.585),(2.4,.585),(2.65,.585),(2.95,.585),(3.2,.585),(4,.59),(1.1,.57),(1.3,.565),(1.5,.57),(1.8,.575),(2,.575),(2.3,.575),(2.55,.575),(2.85,.575),(3.1,.575),(3.55,.57),(.75,.565),(1.05,.56),(1.25,.56),(1.5,.56),(1.65,.56),(1.85,.565),(2.15,.565),(2.4,.565),(2.7,.56),(2.95,.56),(1.35,.555),(1.6,.55),(1.9,.555),(2.3,.55),(2.9,.55),(3.05,.555),(1.25,.545),(.4,.54),(1.55,.543),(2.65,.56)]
f4_more = [(1.35,.575),(1.6,.58),(1.85,.58),(2.1,.58),(2.35,.578),(2.6,.58),(2.8,.58),(3.05,.58),(1.7,.6),(1.9,.6),(2.15,.6),(2.35,.6),(2.6,.6),(2.85,.6),(3.05,.6),(2.05,.61),(2.3,.61),(2.55,.61),(2.75,.61),(3,.61),(2.2,.62),(2.45,.62),(2.7,.62),(2.9,.62),(1.7,.568),(2,.565),(2.25,.57),(2.5,.568),(2.8,.57),(3.2,.575)]
f5_pts = [(3,.755),(1.05,.72),(1.3,.705),(.5,.69),(.8,.69),(1,.7),(1.15,.7),(2.85,.705),(1.75,.7),(1.9,.7),(3.3,.68),(.95,.66),(1.2,.67),(1.5,.68),(1.65,.66),(1.85,.66),(2.1,.66),(2.4,.67),(2.65,.675),(2.95,.67),(3.3,.65),(.8,.625),(1.05,.63),(1.3,.64),(1.5,.645),(1.7,.64),(1.95,.64),(2.2,.64),(2.5,.645),(2.75,.64),(3,.64),(3.35,.63),(3.55,.625),(1.2,.615),(1.35,.62),(1.6,.62),(1.85,.625),(2.05,.62),(2.3,.625),(2.6,.62),(2.85,.615),(3.2,.62),(3.4,.61),(1.25,.6),(1.45,.6),(1.7,.605),(1.9,.605),(2.15,.6),(2.4,.605),(2.7,.6),(2.95,.6),(3.15,.6),(3.6,.605),(1.05,.57),(1.25,.58),(1.5,.59),(1.8,.59),(2,.59),(2.25,.585),(2.5,.585),(2.75,.585),(3,.58),(3.35,.58),(1.35,.56),(1.6,.57),(1.85,.565),(2.1,.565),(2.35,.565),(2.6,.565),(2.85,.565),(3.1,.57),(1,.54),(1.25,.54),(1.55,.54),(1.8,.55),(2.05,.55),(2.25,.55),(2.5,.55),(2.75,.55),(3.05,.54),(1.2,.49),(1.45,.52),(1.75,.53),(1.95,.53),(2.2,.53),(2.45,.53),(2.7,.53),(2.95,.53),(3.2,.53),(3.5,.53),(1.5,.5),(1.85,.51),(2.1,.5),(2.35,.51),(2.6,.51),(2.85,.5),(3.05,.51),(3.3,.49),(2.9,.49),(2.4,.48),(2.6,.47),(2.3,.45),(2.5,.45),(2.65,.47),(2.9,.46),(3.05,.45),(2.75,.44),(1.75,.42),(3,.41),(3.15,.41),(3.75,.56),(3.9,.58),(3.4,.68)]
f5_more = [(1.4,.61),(1.55,.61),(1.75,.6),(2,.61),(2.25,.61),(2.5,.6),(2.8,.6),(1.15,.6),(1.35,.59),(1.6,.58),(1.9,.58),(2.15,.58),(2.4,.585),(2.65,.58),(2.9,.58),(1.45,.565),(1.7,.56),(1.95,.57),(2.2,.57),(2.5,.57),(2.75,.56),(3,.56),(1.65,.545),(1.9,.54),(2.15,.54),(2.4,.54),(2.6,.535),(2.85,.54),(2.45,.5),(2.7,.5)]

# smooth fits: x, fit, lower, upper
c_fit_x = [.3, .5, .8, 1, 1.5, 2, 2.5, 3, 3.5, 4, 4.31]
c_fit_y = [9.0, 10.4, 12.1, 12.2, 12.4, 12.9, 13.5, 14.1, 14.4, 14.5, 14.5]
c_fit_lo = [8.0, 9.8, 11.5, 11.6, 11.8, 12.2, 12.6, 13, 12.7, 11.7, 10.2]
c_fit_hi = [10, 11, 12.8, 12.9, 13, 13.6, 14.4, 15.2, 16, 17.2, 18.5]
d_fit_x = [.3, .5, .8, 1, 1.5, 2, 2.5, 3, 3.5, 4, 4.33]
d_fit_y = [3.15, 3.6, 4.03, 4.1, 4.35, 4.6, 4.85, 5, 5.02, 4.95, 4.85]
d_fit_lo = [2.9, 3.4, 3.85, 3.9, 4.1, 4.35, 4.5, 4.5, 4.25, 3.85, 3.55]
d_fit_hi = [3.5, 3.85, 4.25, 4.35, 4.65, 4.95, 5.2, 5.5, 5.75, 6.05, 6.2]
g_fit_x = [.4, 1, 1.5, 1.75, 2, 2.2, 2.5, 3, 3.5, 4.03]
g_fit_y = [6.8, 7.8, 9.2, 9.9, 10.2, 10.3, 11.1, 12.2, 13.6, 15]
g_fit_lo = [2.1, 6.1, 8.5, 9.2, 9.6, 9.7, 10.3, 11.4, 11.6, 11.3]
g_fit_hi = [11.5, 9.1, 10, 10.5, 10.9, 11, 11.9, 13, 15.6, 19.6]
h_fit_x = [.4, .7, 1, 1.5, 1.75, 2, 2.25, 2.5, 3, 3.5, 4.03]
h_fit_y = [3.15, 3.5, 3.8, 4.2, 4.4, 4.45, 4.5, 4.8, 5.5, 6, 6.65]
h_fit_lo = [1.4, 2.4, 3.2, 3.9, 4.1, 4.15, 4.2, 4.5, 5.15, 5.3, 5.05]
h_fit_hi = [4.9, 4.5, 4.3, 4.6, 4.7, 4.75, 4.8, 5.1, 5.85, 6.8, 8.25]

b_fit_x = [.3, .5, 1, 1.5, 2, 2.5, 3, 3.5, 4, 4.3]
b1_fit = [.642, .655, .673, .672, .686, .692, .696, .696, .691, .688]
b1_lo = [.633, .648, .665, .664, .678, .682, .68, .672, .655, .645]
b1_hi = [.652, .663, .681, .68, .693, .703, .712, .72, .727, .731]
b2_fit = [.70, .74, .768, .772, .785, .798, .804, .802, .79, .782]
b2_lo = [.69, .732, .76, .764, .777, .787, .788, .778, .755, .74]
b2_hi = [.71, .748, .776, .78, .793, .809, .82, .822, .822, .822]
b3_fit = [.71, .74, .775, .77, .78, .81, .83, .838, .825, .81]
b3_lo = [.695, .73, .76, .755, .765, .79, .80, .79, .74, .71]
b3_hi = [.725, .75, .79, .785, .795, .83, .86, .88, .89, .89]
b4_fit = [.769, .778, .789, .791, .797, .804, .808, .809, .8085, .808]
b4_lo = [.764, .774, .785, .787, .793, .798, .80, .797, .79, .785]
b4_hi = [.774, .782, .793, .795, .801, .81, .816, .821, .827, .831]
b5_fit = [.77, .76, .745, .735, .73, .728, .728, .728, .728, .73]
b5_lo = [.755, .75, .737, .725, .72, .713, .705, .695, .675, .66]
b5_hi = [.785, .77, .753, .745, .74, .743, .75, .76, .78, .80]

f_fit_x = [.4, 1, 1.5, 2, 2.5, 3, 3.5, 4]
f1_fit = [.41, .44, .457, .465, .475, .493, .496, .483]
f1_lo = [.34, .42, .445, .453, .463, .478, .47, .43]
f1_hi = [.482, .46, .47, .477, .487, .508, .525, .54]
f2_fit = [.545, .575, .61, .635, .665, .685, .695, .70]
f2_lo = [.46, .545, .595, .62, .65, .665, .655, .63]
f2_hi = [.625, .605, .625, .65, .68, .705, .735, .77]
f3_fit = [.53, .60, .645, .66, .695, .726, .748, .733]
f3_lo = [.41, .55, .62, .635, .67, .70, .69, .63]
f3_hi = [.65, .645, .67, .69, .72, .755, .80, .84]
f4_fit = [.551, .578, .594, .601, .61, .616, .618, .617]
f4_lo = [.518, .567, .587, .594, .604, .608, .603, .59]
f4_hi = [.58, .59, .602, .608, .618, .624, .632, .644]
f5_fit = [.68, .645, .615, .595, .575, .568, .578, .59]
f5_lo = [.61, .615, .60, .58, .56, .55, .545, .51]
f5_hi = [.755, .67, .635, .61, .59, .585, .61, .66]

b_titles = ["Check\u2212point", "Macrophages", "MDSC", "Treg", "Type_II_IFN_Reponse"]
b_r = ["0.287", "0.475", "0.328", "0.417", "\u22120.224"]
f_r = ["0.285", "0.417", "0.308", "0.414", "\u22120.302"]


def px_x(x):
    return x / W


def px_y(y):
    return 1 - y / H


fig = go.Figure()
annots = []
shapes = []
layout_axes = {}
ax_count = 0


def note(x, y, text, size, color="#222222", xanchor="center", yanchor="middle", angle=0, bold=False):
    annots.append(dict(x=px_x(x), y=px_y(y), xref="paper", yref="paper", text=f"<b>{text}</b>" if bold else text,
                       showarrow=False, xanchor=xanchor, yanchor=yanchor, textangle=angle,
                       font=dict(family=FONT, size=size, color=color), borderpad=0, align="center"))


def new_axes(box, xr, yr, xt, yt, yfmt, big, xticktext=None, tick_size=None, mirror=True, xangle=None):
    global ax_count
    ax_count += 1
    n = "" if ax_count == 1 else str(ax_count)
    l, t, r, b = box
    lw = 1.3 if big else .9
    tl = 4 if big else 2.5
    tw = 1.1 if big else .7
    common = dict(showgrid=False, zeroline=False, showline=True, linecolor="#3a3a3a", linewidth=lw, ticks="outside",
                  ticklen=tl, tickwidth=tw, tickcolor="#333333", mirror=mirror,
                  tickfont=dict(family=FONT, size=tick_size, color="#222222"))
    layout_axes["xaxis" + n] = dict(common, domain=[px_x(l), px_x(r)], range=xr, tickvals=xt, ticktext=xticktext,
                                    anchor="y" + n, **({"tickangle": xangle} if xangle is not None else {}))
    layout_axes["yaxis" + n] = dict(common, domain=[px_y(b), px_y(t)], range=yr, tickvals=yt, tickformat=yfmt,
                                    anchor="x" + n)
    if not mirror:
        shapes.append(dict(type="line", xref="paper", yref="paper", x0=px_x(l), x1=px_x(r), y0=px_y(t), y1=px_y(t),
                           line=dict(color="#3a3a3a", width=lw)))
    return "x" + n, "y" + n


def bar_panel(box, yr, low, high, low_err, high_err, sig, bracket, title, title_y, legend_y, ylabel_y):
    idx = list(range(len(categories)))
    xa, ya = new_axes(box, [-.6, 29.6], yr, idx, score_ticks, ".1f", True, xticktext=categories, tick_size=11,
                      xangle=-45)
    layout_axes["yaxis" + xa[1:]]["tickfont"] = dict(family=FONT, size=12, color="#222222")
    for name, vals, errs, col in (("low risk", low, low_err, BLUE), ("high risk", high, high_err, YELLOW)):
        fig.add_trace(go.Bar(x=idx, y=vals, name=name, xaxis=xa, yaxis=ya, marker=dict(color=col, line=dict(color=EDGE, width=1.1)),
                             error_y=dict(type="data", array=errs, thickness=1.2, width=1.3, color="#111111"),
                             showlegend=False))
    bx, by = [], []
    for i, y in zip(idx, bracket):
        bx += [i - .24, i - .24, i + .24, i + .24, None]
        by += [y - .02, y, y, y - .02, None]
    fig.add_trace(go.Scatter(x=bx, y=by, mode="lines", xaxis=xa, yaxis=ya, line=dict(color="#111111", width=1), showlegend=False))
    for label, size, drop in (("ns", 11.5, .008), ("***", 9.5, .024), ("**", 9.5, .024), ("*", 9.5, .024)):
        sel = [i for i in idx if sig[i] == label]
        if sel:
            fig.add_trace(go.Scatter(x=sel, y=[bracket[i] - drop for i in sel], text=[label] * len(sel), mode="text",
                                     textposition="top center", xaxis=xa, yaxis=ya, cliponaxis=False,
                                     textfont=dict(family=FONT, size=size, color="#222222"), showlegend=False))
    note(350, title_y, title, 12.5)
    note(279.5, legend_y, "Group", 10, xanchor="left")
    for x0, col, lab, tx in ((312, BLUE, "low risk", 330), (367, YELLOW, "high risk", 385)):
        shapes.append(dict(type="rect", xref="paper", yref="paper", x0=px_x(x0), x1=px_x(x0 + 12), y0=px_y(legend_y - 5.7),
                           y1=px_y(legend_y + 5.7), fillcolor=col, line=dict(color=EDGE, width=1.1)))
        note(tx, legend_y, lab, 9.5, xanchor="left")
    note(19, ylabel_y, "Score", 13, angle=-90)


def scatter_panel(box, xr, yr, xt, yt, yfmt, pts, fx, fy, flo, fhi, title, title_xy, ylabel, ylab_xy, xlab_xy, r_text,
                  rows, right, big, scale=1.0):
    xa, ya = new_axes(box, xr, yr, xt, yt, yfmt, big, tick_size=9.5 if big else 5.5, mirror=not big)
    px_ = [p[0] for p in pts]
    py_ = [p[1] * scale for p in pts]
    fig.add_trace(go.Scatter(x=px_, y=py_, mode="markers", xaxis=xa, yaxis=ya, showlegend=False,
                             marker=dict(symbol="square", size=4.4 if big else 3.0, color=DOT, opacity=.92, line=dict(width=0))))
    fig.add_trace(go.Scatter(x=fx + fx[::-1], y=[v * scale for v in fhi] + [v * scale for v in flo[::-1]], mode="lines",
                             fill="toself", xaxis=xa, yaxis=ya, showlegend=False, line=dict(width=0, shape="spline", smoothing=.6),
                             fillcolor="rgba(150,150,150,0.5)"))
    fig.add_trace(go.Scatter(x=fx, y=[v * scale for v in fy], mode="lines", xaxis=xa, yaxis=ya, showlegend=False,
                             line=dict(color="#111111", width=1.3 if big else .9, shape="spline", smoothing=.7)))
    ts, ls, rs = (10.5, 10.5, 9.5) if big else (6.5, 6.5, 5.5)
    note(*title_xy, title, ts)
    note(*ylab_xy, ylabel, ls, angle=-90)
    note(*xlab_xy, "riskScore", ls)
    for y, t in zip(rows, ("Spearman", f"r = {r_text}", "P &lt; 0.001")):
        note(right, y, t, rs, color=RED, xanchor="right")


bar_panel((56, 43, 643.4, 218.3), [0, 1.075], tcga_low, tcga_high, tcga_low_err, tcga_high_err, tcga_sig, tcga_bracket,
          "TCGA cohort", 18.5, 35, 130)
bar_panel((56, 482, 643.4, 657.7), [0, 1.065], icgc_low, icgc_high, icgc_low_err, icgc_high_err, icgc_sig, icgc_bracket,
          "ICGC cohort", 457.7, 474.3, 570)

b_boxes = [(35.7, 331, 128.3, 421.7), (164.3, 331, 257, 421.7), (290, 331, 386.7, 421.7), (421.7, 330.5, 514.3, 421.7), (548.3, 331, 641, 421.7)]
b_xr = [[.18, 4.41], [.17, 4.4], [.14, 4.44], [.17, 4.4], [.16, 4.38]]
b_yr = [[.563, .802], [.62, .906], [.5, 1.017], [.731, .861], [.455, .912]]
b_yt = [[.6, .65, .7, .75, .8], [.65, .7, .75, .8, .85, .9], [.5, .6, .7, .8, .9, 1.0], [.74, .76, .78, .8, .82, .84, .86], [.5, .6, .7, .8, .9]]
b_fmt = [".2f", ".2f", ".1f", ".2f", ".1f"]
b_pts = [b1_pts + b1_more, b2_pts + b2_more, b3_pts + b3_more, b4_pts + b4_more, b5_pts + b5_more]
b_fits = [(b1_fit, b1_lo, b1_hi), (b2_fit, b2_lo, b2_hi), (b3_fit, b3_lo, b3_hi), (b4_fit, b4_lo, b4_hi), (b5_fit, b5_lo, b5_hi)]
b_ylab_x = [15, 144, 274, 401.7, 530.7]
for i in range(5):
    l, t, r, b = b_boxes[i]
    scatter_panel(b_boxes[i], b_xr[i], b_yr[i], [1, 2, 3, 4], b_yt[i], b_fmt[i], b_pts[i], b_fit_x, *b_fits[i], "TCGA cohort",
                  ((l + r) / 2, 326.5), b_titles[i], (b_ylab_x[i], 376.5), ((l + r) / 2, 435), b_r[i], (403, 410.3, 417.7), r - 2, False)

f_boxes = [(35.7, 768.3, 128.3, 859), (161, 768.3, 257, 859), (290, 768.3, 386, 859), (421.7, 768.3, 514, 859), (548, 768.3, 640.5, 859)]
f_xr = [[.31, 4.06], [.27, 4.08], [.24, 4.07], [.32, 4.08], [.3, 4]]
f_yr = [[.333, .662], [.429, .902], [.356, 1.017], [.516, .70], [.396, .765]]
f_yt = [[.35, .4, .45, .5, .55, .6, .65], [.5, .6, .7, .8, .9], [.4, .5, .6, .7, .8, .9, 1.0], [.55, .6, .65, .7], [.4, .5, .6, .7]]
f_fmt = [".2f", ".1f", ".1f", ".2f", ".1f"]
f_pts = [f1_pts + f1_more, f2_pts + f2_more, f3_pts + f3_more, f4_pts + f4_more, f5_pts + f5_more]
f_fits = [(f1_fit, f1_lo, f1_hi), (f2_fit, f2_lo, f2_hi), (f3_fit, f3_lo, f3_hi), (f4_fit, f4_lo, f4_hi), (f5_fit, f5_lo, f5_hi)]
for i in range(5):
    l, t, r, b = f_boxes[i]
    scatter_panel(f_boxes[i], f_xr[i], f_yr[i], [1, 2, 3, 4], f_yt[i], f_fmt[i], f_pts[i], f_fit_x, *f_fits[i], "ICGC cohort",
                  ((l + r) / 2, 764), b_titles[i], (b_ylab_x[i], 813.5), ((l + r) / 2, 872.7), f_r[i], (840, 847.3, 854.7), r - 2, False)

scatter_panel((725, 34.3, 882, 196.3), [.186, 4.307], [.00256, .0253], [1, 2, 3, 4], [.005, .01, .015, .02, .025], ".3f",
              c_pts_milli, c_fit_x, c_fit_y, c_fit_lo, c_fit_hi, "TCGA cohort", (805.7, 27), "CAFs", (685, 115), (805, 220), "0.242",
              (162.7, 175.7, 188.3), 880.7, True, scale=.001)
scatter_panel((707.3, 253.3, 882, 415), [.165, 4.33], [.89, 8.35], [1, 2, 3, 4], [2, 4, 6, 8], "d",
              d_pts, d_fit_x, d_fit_y, d_fit_lo, d_fit_hi, "TCGA cohort", (796.7, 245.7), "Fibroblasts", (685, 334), (796.7, 439), "0.285",
              (381.7, 394.3, 407.3), 880.7, True)
scatter_panel((725, 472.3, 882, 634), [.275, 4.03], [.00132, .0221], [1, 2, 3, 4], [.005, .01, .015, .02], ".3f",
              g_pts_milli, g_fit_x, g_fit_y, g_fit_lo, g_fit_hi, "ICGC cohort", (805.7, 465), "CAFs", (685, 553), (805.7, 658), "0.383",
              (601, 613.7, 626.3), 880.7, True, scale=.001)
scatter_panel((707.3, 691, 882, 852.7), [.285, 4.03], [.89, 9.32], [1, 2, 3, 4], [2, 4, 6, 8], "d",
              h_pts, h_fit_x, h_fit_y, h_fit_lo, h_fit_hi, "ICGC cohort", (796.7, 683.7), "Fibroblasts", (685, 772), (796.7, 875), "0.402",
              (819.7, 832.3, 845), 880.7, True)

for letter, x, y in (("A", 18, 20), ("B", 18, 318), ("C", 684, 20), ("D", 688, 243), ("E", 16.5, 460), ("F", 20, 756), ("G", 684, 462), ("H", 684, 682)):
    note(x, y, letter, 17, color="#000000", bold=True)

fig.update_layout(width=W, height=H, margin=dict(l=0, r=0, t=0, b=0, autoexpand=False), paper_bgcolor="white", plot_bgcolor="white",
                  barmode="group", bargap=.2, bargroupgap=0, annotations=annots, shapes=shapes, showlegend=False,
                  font=dict(family=FONT), **layout_axes)
fig.write_html("out.html", config={"displayModeBar": False},
               post_script="document.body.style.margin='0';document.body.style.overflow='hidden';")
